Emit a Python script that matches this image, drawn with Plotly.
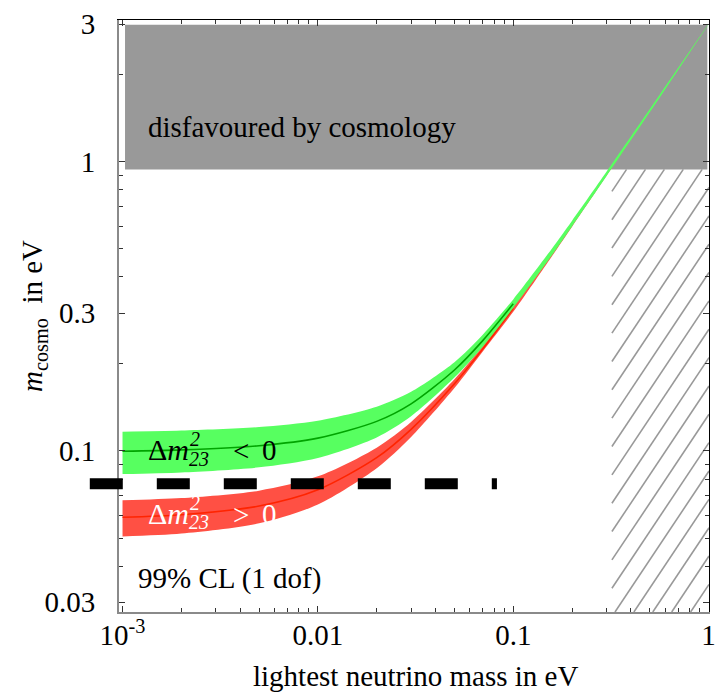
import numpy as np
import plotly.graph_objects as go

# ---------------- data ----------------
light_mass = [0.001, 0.002, 0.005, 0.01, 0.02, 0.03, 0.05, 0.07, 0.1, 0.15, 0.2, 0.3, 0.5, 0.7, 1.0]

normal_mid = [0.0590, 0.0602, 0.0645, 0.0734, 0.0948, 0.1188, 0.1708, 0.2260, 0.3118, 0.4581, 0.6061, 0.9041, 1.5025, 2.1018, 3.0012]
normal_lo = [0.0506, 0.0518, 0.0562, 0.0653, 0.0872, 0.1118, 0.1652, 0.2215, 0.3030, 0.4490, 0.5970, 0.8950, 1.4950, 2.0950, 2.9980]
normal_hi = [0.0675, 0.0687, 0.0729, 0.0817, 0.1027, 0.1261, 0.1770, 0.2311, 0.3180, 0.4650, 0.6120, 0.9100, 1.5080, 2.1060, 3.0030]

inverted_mid = [0.0998, 0.1009, 0.1043, 0.1108, 0.1266, 0.1456, 0.1906, 0.2414, 0.3231, 0.4659, 0.6120, 0.9081, 1.5049, 2.1035, 3.0024]
inverted_lo = [0.0832, 0.0843, 0.0878, 0.0946, 0.1114, 0.1318, 0.1795, 0.2300, 0.3125, 0.4533, 0.5981, 0.8915, 1.4843, 2.0842, 2.9950]
inverted_hi = [0.1166, 0.1177, 0.1210, 0.1273, 0.1423, 0.1602, 0.2028, 0.2530, 0.3345, 0.4789, 0.6262, 0.9250, 1.5258, 2.1230, 3.0090]

center_line_end = 0.1          # dark centre lines are visible up to here

limit_value = 0.077            # thick dashed line
limit_x = [0.00068, 0.0825]

disfavoured_x = [0.00103, 0.985]
disfavoured_y = [0.942, 2.98]

hatch_x = [0.32, 1.0]
hatch_top = 0.942

x_ticks = [0.001, 0.01, 0.1, 1]
x_ticktext = ["10<sup>-3</sup>", "0.01", "0.1", "1"]
y_ticks = [0.03, 0.1, 0.3, 1, 3]
y_ticktext = ["0.03", "0.1", "0.3", "1", "3"]
x_minor = [k * 10.0 ** e for e in (-3, -2, -1) for k in range(2, 10)]
y_minor = [0.04, 0.05, 0.06, 0.07, 0.08, 0.09, 0.2, 0.4, 0.5, 0.6, 0.7, 0.8, 0.9, 2]

# ---------------- layout geometry ----------------
W, H = 719, 694
ML, MR, MT, MB = 119, 10, 20, 82
PW = W - ML - MR
PH = H - MT - MB
XR = [-3.018, 0.002]
YR = [-1.557, 0.491]

FONT = "Liberation Serif, Times New Roman, serif"
GREEN_BAND = "#57FF60"
GREEN_LINE = "#00A400"
RED_BAND = "#FF5044"
RED_LINE = "#FF2400"
GREY = "#999999"


def px_x(px):
    return (px - ML) / PW


def px_y(py):
    return (H - MB - py) / PH


def d2px_x(v):
    return ML + (np.log10(v) - XR[0]) / (XR[1] - XR[0]) * PW


def d2px_y(v):
    return H - MB - (np.log10(v) - YR[0]) / (YR[1] - YR[0]) * PH


def px2d_x(px):
    return 10 ** (XR[0] + (px - ML) / PW * (XR[1] - XR[0]))


def px2d_y(py):
    return 10 ** (YR[0] + (H - MB - py) / PH * (YR[1] - YR[0]))


fig = go.Figure()

# grey "disfavoured" box
fig.add_trace(go.Scatter(
    x=[disfavoured_x[0], disfavoured_x[1], disfavoured_x[1], disfavoured_x[0], disfavoured_x[0]],
    y=[disfavoured_y[0], disfavoured_y[0], disfavoured_y[1], disfavoured_y[1], disfavoured_y[0]],
    mode="lines", fill="toself", fillcolor=GREY, line=dict(width=0),
    hoverinfo="skip", showlegend=False))

# hatch lines (decoration generated from the hatched region bounds)
left, right = d2px_x(hatch_x[0]), ML + PW
top, bottom = d2px_y(hatch_top), MT + PH
slope, spacing, phase = 1.5, 18.9, 615.0
hx, hy = [], []
for n in range(-40, 10):
    xb = phase + spacing * n            # crossing of the bottom edge
    xs = max(left, xb)
    ys = bottom - slope * (xs - xb)
    xe = min(right, xb + (bottom - top) / slope)
    ye = bottom - slope * (xe - xb)
    if xe <= xs or ys < top:
        continue
    hx += [px2d_x(xs), px2d_x(xe), None]
    hy += [px2d_y(ys), px2d_y(ye), None]
fig.add_trace(go.Scatter(x=hx, y=hy, mode="lines", line=dict(color=GREY, width=1.6),
                         hoverinfo="skip", showlegend=False))


def band(lo, hi, color):
    fig.add_trace(go.Scatter(x=light_mass, y=lo, mode="lines",
                             line=dict(width=0, shape="spline", smoothing=0.8),
                             hoverinfo="skip", showlegend=False))
    fig.add_trace(go.Scatter(x=light_mass, y=hi, mode="lines", fill="tonexty", fillcolor=color,
                             line=dict(width=0, shape="spline", smoothing=0.8),
                             hoverinfo="skip", showlegend=False))


def centre(mid, color):
    xs = [m for m in light_mass if m <= center_line_end]
    ys = mid[:len(xs)]
    fig.add_trace(go.Scatter(x=xs, y=ys, mode="lines",
                             line=dict(color=color, width=1.6, shape="spline", smoothing=0.8),
                             hoverinfo="skip", showlegend=False))


band(normal_lo, normal_hi, RED_BAND)
centre(normal_mid, RED_LINE)
band(inverted_lo, inverted_hi, GREEN_BAND)
centre(inverted_mid, GREEN_LINE)

# dummy trace for the mirrored (top/right) frame axes
fig.add_trace(go.Scatter(x=[0.5], y=[0.5], xaxis="x2", yaxis="y2", mode="markers",
                         marker=dict(opacity=0), hoverinfo="skip", showlegend=False))

# thick dashed limit line (extends left of the frame)
ly = (np.log10(limit_value) - YR[0]) / (YR[1] - YR[0])
fig.add_shape(type="line", xref="paper", yref="paper",
              x0=(np.log10(limit_x[0]) - XR[0]) / (XR[1] - XR[0]),
              x1=(np.log10(limit_x[1]) - XR[0]) / (XR[1] - XR[0]),
              y0=ly, y1=ly, layer="above",
              line=dict(color="black", width=11, dash="33px,34px"))

ann = []


def text(t, px, py, size=29, color="black", xanchor="left", angle=0):
    ann.append(dict(text=t, x=px_x(px), y=px_y(py), xref="paper", yref="paper",
                    xanchor=xanchor, yanchor="middle", showarrow=False, textangle=angle,
                    font=dict(family=FONT, size=size, color=color)))


text("disfavoured by cosmology", 146, 127)
text("99% CL (1 dof)", 136, 578)

# Δm^2_23 < 0 (black, in the green band)
text("Δ<i>m</i>", 146, 449, size=30)
text("<i>2</i>", 188, 439, size=20)
text("<i>23</i>", 187, 459, size=20)
text("<", 231, 451)
text("0", 260, 450)

# Δm^2_23 > 0 (white, in the red band)
text("Δ<i>m</i>", 146, 513, size=30, color="white")
text("<i>2</i>", 188, 503, size=20, color="white")
text("<i>23</i>", 187, 522, size=20, color="white")
text(">", 231, 515, color="white")
text("0", 260, 514, color="white")

# axis titles
text("lightest neutrino mass in eV", 415, 676, xanchor="center")
text("<i>m</i><sub>cosmo</sub>  in eV", 34, 316, xanchor="center", angle=-90)

axis_common = dict(type="log", showgrid=False, zeroline=False, ticks="inside",
                   ticklen=6, tickwidth=1.2, tickcolor="#333", automargin=False,
                   tickfont=dict(family=FONT, size=29, color="black"))

fig.update_layout(
    width=W, height=H, autosize=False,
    margin=dict(l=ML, r=MR, t=MT, b=MB, pad=0, autoexpand=False),
    paper_bgcolor="white", plot_bgcolor="white",
    showlegend=False,
    annotations=ann,
    xaxis=dict(**axis_common, range=XR, tickmode="array", tickvals=x_ticks, ticktext=x_ticktext,
               showline=True, linecolor="#8a8a8a", linewidth=2, ticklabelstandoff=-4,
               minor=dict(tickmode="array", tickvals=x_minor, ticks="inside", ticklen=4,
                          tickcolor="#333", tickwidth=1)),
    yaxis=dict(**axis_common, range=YR, tickmode="array", tickvals=y_ticks, ticktext=y_ticktext,
               showline=True, linecolor="#8a8a8a", linewidth=2, ticklabelstandoff=16,
               minor=dict(tickmode="array", tickvals=y_minor, ticks="inside", ticklen=4,
                          tickcolor="#333", tickwidth=1)),
    xaxis2=dict(**axis_common, range=XR, overlaying="x", side="top", tickmode="array",
                tickvals=x_ticks, showticklabels=False, showline=True, linecolor="black",
                linewidth=1.3,
                minor=dict(tickmode="array", tickvals=x_minor, ticks="inside", ticklen=4,
                           tickcolor="#333", tickwidth=1)),
    yaxis2=dict(**axis_common, range=YR, overlaying="y", side="right", tickmode="array",
                tickvals=y_ticks, showticklabels=False, showline=True, linecolor="black",
                linewidth=1.3,
                minor=dict(tickmode="array", tickvals=y_minor, ticks="inside", ticklen=4,
                           tickcolor="#333", tickwidth=1)),
)

fig.write_html("out.html", config={"displayModeBar": False, "responsive": False},
               post_script="document.body.style.margin='0px';document.body.style.overflow='hidden';")
